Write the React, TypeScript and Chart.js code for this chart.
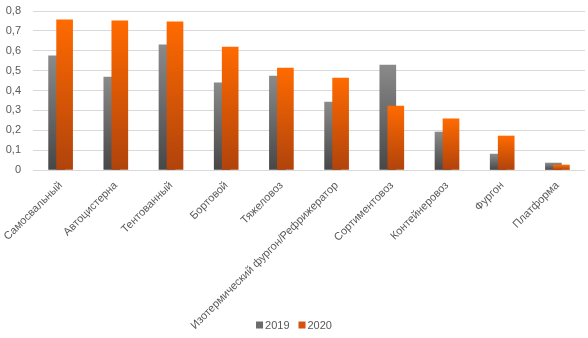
import React, { useEffect, useRef } from 'react';
import { Chart, registerables } from 'chart.js';

Chart.register(...registerables);

const categories = [
  'Самосвальный',
  'Автоцистерна',
  'Тентованный',
  'Бортовой',
  'Тяжеловоз',
  'Изотермический фургон/Рефрижератор',
  'Сортиментовоз',
  'Контейнеровоз',
  'Фургон',
  'Платформа',
];
const values2019 = [0.575, 0.468, 0.63, 0.438, 0.473, 0.342, 0.528, 0.191, 0.08, 0.035];
const values2020 = [0.755, 0.75, 0.745, 0.619, 0.513, 0.463, 0.322, 0.257, 0.171, 0.025];
const seriesNames = ['2019', '2020'];
const legendColors = ['#6b6b6b', '#d5520f'];
const yTickLabels = ['0', '0,1', '0,2', '0,3', '0,4', '0,5', '0,6', '0,7', '0,8'];

const FONT = "'Liberation Sans', Arial, sans-serif";
const TEXT = '#595959';

function barGradient(top: string, bottom: string) {
  return (ctx: any) => {
    const chart = ctx.chart;
    const y = chart.scales && chart.scales.y;
    if (!y || ctx.type !== 'data') return bottom;
    const y0 = y.getPixelForValue(ctx.raw);
    const y1 = y.getPixelForValue(0);
    if (!isFinite(y0) || !isFinite(y1) || Math.abs(y1 - y0) < 0.5) return bottom;
    const g = chart.ctx.createLinearGradient(0, y0, 0, y1);
    g.addColorStop(0, top);
    g.addColorStop(1, bottom);
    return g;
  };
}

const shiftPlugin = {
  id: 'barShift',
  afterDatasetsUpdate(chart: any) {
    chart.data.datasets.forEach((ds: any, i: number) => {
      const meta = chart.getDatasetMeta(i);
      const off = ds.xShift || 0;
      meta.data.forEach((el: any) => {
        el.x += off;
      });
    });
  },
};

const bottomLegend = {
  id: 'bottomLegend',
  afterDraw(chart: any) {
    const ctx = chart.ctx;
    ctx.save();
    ctx.font = `11px ${FONT}`;
    ctx.textBaseline = 'middle';
    ctx.textAlign = 'left';
    const box = 7;
    const gapBoxText = 2;
    const gapItems = 9;
    const widths = seriesNames.map((n) => box + gapBoxText + ctx.measureText(n).width);
    const total = widths.reduce((a, b) => a + b, 0) + gapItems * (seriesNames.length - 1);
    let x = chart.width / 2 - total / 2;
    const y = 325;
    seriesNames.forEach((n, i) => {
      ctx.fillStyle = legendColors[i];
      ctx.fillRect(x, y - box / 2, box, box);
      ctx.fillStyle = TEXT;
      ctx.fillText(n, x + box + gapBoxText, y + 0.5);
      x += widths[i] + gapItems;
    });
    ctx.restore();
  },
};

export default function App() {
  const ref = useRef<HTMLCanvasElement | null>(null);

  useEffect(() => {
    if (!ref.current) return;
    const chart = new Chart(ref.current, {
      type: 'bar',
      data: {
        labels: categories,
        datasets: [
          {
            label: seriesNames[0],
            data: values2019,
            backgroundColor: barGradient('#8a8a8a', '#474747'),
            barThickness: 16,
            grouped: false,
            order: 1,
            xShift: -4,
          } as any,
          {
            label: seriesNames[1],
            data: values2020,
            backgroundColor: barGradient('#ff6a00', '#b0430c'),
            barThickness: 16,
            grouped: false,
            order: 0,
            xShift: 4,
          } as any,
        ],
      },
      options: {
        animation: false,
        responsive: true,
        maintainAspectRatio: false,
        layout: { padding: { top: 11, right: 3, left: 0, bottom: 0 } },
        plugins: {
          tooltip: { enabled: false },
          legend: { display: false },
        },
        scales: {
          x: {
            grid: { display: false, drawTicks: false },
            border: { display: false },
            ticks: {
              autoSkip: false,
              minRotation: 45,
              maxRotation: 45,
              padding: 9,
              color: TEXT,
              font: { family: FONT, size: 11 },
            },
            afterFit: (scale: any) => {
              scale.height = 168;
              scale.paddingLeft = 0;
              scale.paddingRight = 0;
            },
          },
          y: {
            min: 0,
            max: 0.8,
            grid: { color: '#d9d9d9', drawTicks: false, lineWidth: 1 },
            border: { display: false },
            ticks: {
              stepSize: 0.1,
              padding: 12,
              color: TEXT,
              font: { family: FONT, size: 11 },
              callback: (_v: any, i: number) => yTickLabels[i],
            },
            afterFit: (scale: any) => {
              scale.width = 33;
              scale.paddingTop = 0;
              scale.paddingBottom = 0;
            },
          },
        },
      },
      plugins: [shiftPlugin, bottomLegend],
    });
    return () => chart.destroy();
  }, []);

  return (
    <div style={{ position: 'fixed', left: 0, top: 0, width: 588, height: 338, background: '#fff' }}>
      <canvas ref={ref} />
    </div>
  );
}
